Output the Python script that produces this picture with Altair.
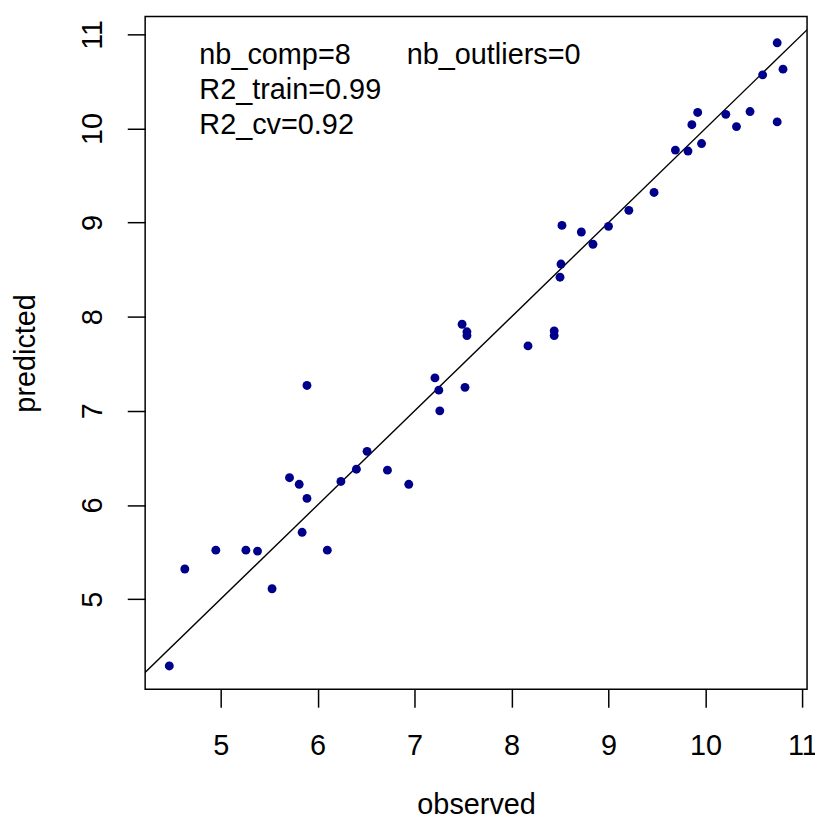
import altair as alt
import pandas as pd

observed = [4.47, 4.63, 4.95, 5.26, 5.38, 5.53, 5.71, 5.81, 5.89, 5.84,
            6.10, 6.24, 6.40, 6.51, 6.72, 6.94, 5.89, 7.21, 7.25, 7.26,
            7.52, 7.49, 7.54, 7.54, 8.17, 8.44, 8.44, 8.52, 8.72, 8.84,
            9.00, 9.21, 8.51, 8.50, 9.47, 9.69, 9.82, 9.96, 9.86, 9.92,
            10.21, 10.32, 10.46, 10.59, 10.74, 10.80, 10.74]
predicted = [4.29, 5.32, 5.52, 5.52, 5.51, 5.11, 6.29, 6.22, 6.07, 5.71,
             5.52, 6.25, 6.38, 6.57, 6.37, 6.22, 7.27, 7.35, 7.22, 7.00,
             7.25, 7.92, 7.84, 7.80, 7.69, 7.85, 7.80, 8.97, 8.90, 8.77,
             8.96, 9.13, 8.56, 8.42, 9.32, 9.77, 9.76, 9.84, 10.04, 10.17,
             10.15, 10.02, 10.18, 10.57, 10.91, 10.63, 10.07]
tick_values = [5, 6, 7, 8, 9, 10, 11]
identity_line = [4, 12]
annotations = ["nb_comp=8", "nb_outliers=0", "R2_train=0.99", "R2_cv=0.92"]

FONT = "Liberation Sans"
FS = 29

df = pd.DataFrame({"observed": observed, "predicted": predicted})
line_df = pd.DataFrame({"observed": identity_line, "predicted": identity_line})

xscale = alt.Scale(domain=[4.221, 11.048], nice=False, zero=False)
yscale = alt.Scale(domain=[4.042, 11.19], nice=False, zero=False)

xaxis = alt.Axis(values=tick_values, format="d", title="observed", grid=False, domain=False,
                 ticks=True, tickSize=18, tickWidth=1.5, tickColor="black",
                 labelFont=FONT, labelFontSize=FS, labelColor="black", labelPadding=25,
                 labelOverlap=False,
                 titleFont=FONT, titleFontSize=FS, titleFontWeight="normal",
                 titleColor="black", titlePadding=30)
yaxis = alt.Axis(values=tick_values, format="d", title="predicted", grid=False, domain=False,
                 ticks=True, tickSize=18, tickWidth=1.5, tickColor="black",
                 labelFont=FONT, labelFontSize=FS, labelColor="black", labelPadding=20,
                 labelAngle=270, labelAlign="center", labelBaseline="bottom",
                 labelOverlap=False,
                 titleFont=FONT, titleFontSize=FS, titleFontWeight="normal",
                 titleColor="black", titlePadding=38)

points = alt.Chart(df).mark_circle(size=80, color="#00008B", opacity=1).encode(
    x=alt.X("observed:Q", scale=xscale, axis=xaxis),
    y=alt.Y("predicted:Q", scale=yscale, axis=yaxis),
)

line = alt.Chart(line_df).mark_line(color="black", strokeWidth=1.4, clip=True).encode(
    x=alt.X("observed:Q", scale=xscale, axis=xaxis),
    y=alt.Y("predicted:Q", scale=yscale, axis=yaxis),
)

def note(text, xv, yv):
    return alt.Chart().mark_text(align="left", baseline="alphabetic", font=FONT,
                                 fontSize=FS, color="black").encode(
        x=alt.datum(xv, scale=xscale), y=alt.datum(yv, scale=yscale),
        text=alt.value(text))

notes = [
    note(annotations[0], 4.78, 10.684),
    note(annotations[1], 6.919, 10.684),
    note(annotations[2], 4.78, 10.311),
    note(annotations[3], 4.78, 9.945),
]

chart = alt.layer(line, points, *notes).properties(
    width=666, height=677,
    padding={"left": 138, "top": 6, "right": 8, "bottom": 128},
    autosize="none",
).configure(background="white").configure_view(stroke="black", strokeWidth=1.5)

chart.save("out.html", embed_options={"renderer": "svg", "actions": False})
